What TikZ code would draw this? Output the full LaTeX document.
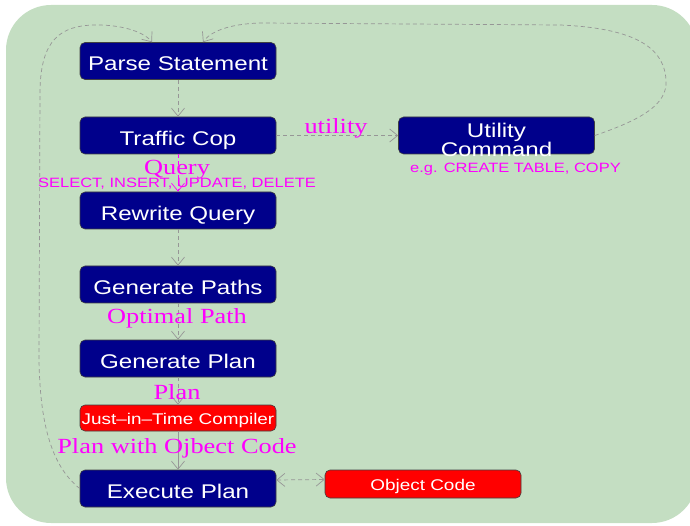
\documentclass[tikz,border=0pt]{standalone}
\usepackage{fontspec}
\usetikzlibrary{arrows.meta}
\newfontfamily\sansS[FakeStretch=1.22]{Liberation Sans}
\newfontfamily\serifS[FakeStretch=1.22]{Liberation Serif}
\newcommand\myNodeFont{\sansS\fontsize{19.8}{17}\selectfont}
\newcommand\mySmallNodeFont{\sansS\fontsize{15.5}{17}\selectfont}
\newcommand\myTinyFont{\sansS\fontsize{13.5}{15}\selectfont}
\newcommand\myLabelFont{\serifS\fontsize{21.6}{22}\selectfont}
\definecolor{navyc}{RGB}{0,0,139}
\definecolor{bggreen}{RGB}{196,222,194}
\definecolor{mag}{RGB}{255,0,255}
\definecolor{edgegray}{RGB}{150,150,150}
\tikzset{
  blk/.style={draw=black!75, fill=navyc, rounded corners=5pt, minimum width=196pt,
    minimum height=37pt, text=white, font=\myNodeFont, inner sep=0pt, line width=0.6pt,
    text height=20pt, text depth=0pt},
  redbox/.style={draw=black!75, fill=red, rounded corners=5pt, minimum width=196pt,
    text=white, font=\mySmallNodeFont, inner sep=0pt, line width=0.6pt,
    text height=12pt, text depth=0pt},
  flow/.style={draw=edgegray, dash pattern=on 4pt off 3pt, line width=0.7pt,
    -{Straight Barb[length=8pt,width=13pt]}},
  solidflow/.style={draw=edgegray, line width=0.7pt,
    -{Straight Barb[length=8pt,width=13pt]}},
  lbl/.style={text=mag, font=\myLabelFont, inner sep=0pt},
  tinylbl/.style={text=mag, font=\myTinyFont, inner sep=0pt},
}
\begin{document}
\begin{tikzpicture}[x=1pt,y=-1pt]
\useasboundingbox (0,0) rectangle (690,526);
\fill[bggreen, rounded corners=45pt] (6,5) rectangle (697,523);

\node[blk] (parse) at (178,61) {Parse Statement};
\node[blk] (traffic) at (178,135.5) {Traffic Cop};
\node[blk] (util) at (496.5,135.5) {};
\node[text=white, font=\myNodeFont, align=center, inner sep=0pt] (utiltxt) at (496.5,140) {Utility\\Command};
\node[blk] (rewrite) at (178,210.5) {Rewrite Query};
\node[blk] (paths) at (178,284.5) {Generate Paths};
\node[blk] (plan) at (178,358.5) {Generate Plan};
\node[redbox, minimum height=26pt] (jit) at (178,418) {Just–in–Time Compiler};
\node[blk] (exec) at (178,488.5) {Execute Plan};
\node[redbox, minimum height=28pt] (obj) at (423,484) {Object Code};

\draw[flow] (parse) -- (traffic);
\draw[flow] (traffic) -- (util);
\draw[flow, draw=mag] (traffic) -- (rewrite);
\draw[flow] (rewrite) -- (paths);
\draw[flow] (paths) -- (plan);
\draw[flow] (plan) -- (jit);
\draw[solidflow] (jit) -- (exec);
\draw[flow, {Straight Barb[length=8pt,width=13pt]}-{Straight Barb[length=8pt,width=13pt]}]
  ([yshift=8.5pt]exec.east) -- ([yshift=4.5pt]obj.west);

\draw[flow] (exec.west) .. controls (50,465) and (40,420) .. (39,360)
  -- (40,90) .. controls (41,40) and (60,25) .. (97,25)
  .. controls (125,25) and (145,33) .. ([xshift=-26pt]parse.north);
\draw[flow] (util.east) .. controls (640,120) and (668,105) .. (666,80)
  .. controls (664,45) and (630,28) .. (560,25)
  -- (260,23) .. controls (228,24) and (210,32) .. ([xshift=25pt]parse.north);

\node[lbl] (lutil) at (336,128) {utility};
\node[lbl] (lquery) at (177,170) {Query};
\node[tinylbl] (lsel) at (177,184) {SELECT, INSERT, UPDATE, DELETE};
\node[tinylbl] (leg) at (515.5,169.5) {e.g. CREATE TABLE, COPY};
\node[lbl] (lopt) at (177,318) {Optimal Path};
\node[lbl] (lplan) at (177,392) {Plan};
\node[lbl] (lpwoc) at (177,448) {Plan with Ojbect Code};
\end{tikzpicture}
\end{document}
